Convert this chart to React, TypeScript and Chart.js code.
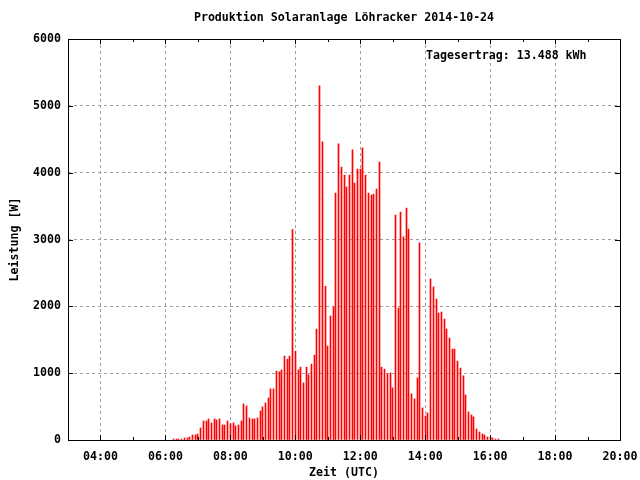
import { useEffect, useRef } from "react";
import { Chart, registerables } from "chart.js";

Chart.register(...registerables);

const TITLE = "Produktion Solaranlage Löhracker 2014-10-24";
const ANNOTATION = "Tagesertrag: 13.488 kWh";
const X_TITLE = "Zeit (UTC)";
const Y_TITLE = "Leistung [W]";

const X_MIN = "03:00";
const X_MAX = "20:00";
const X_TICK_LABELS = ["04:00", "06:00", "08:00", "10:00", "12:00", "14:00", "16:00", "18:00", "20:00"];
const X_MINOR_TICKS = ["05:00", "07:00", "09:00", "11:00", "13:00", "15:00", "17:00", "19:00"];
const Y_TICKS = [0, 1000, 2000, 3000, 4000, 5000, 6000];

const times = [
  "06:15", "06:20", "06:25", "06:30", "06:35", "06:40", "06:45", "06:50", "06:55", "07:00",
  "07:05", "07:10", "07:15", "07:20", "07:25", "07:30", "07:35", "07:40", "07:45", "07:50", "07:55", "08:00",
  "08:05", "08:10", "08:15", "08:20", "08:25", "08:30", "08:35", "08:40", "08:45", "08:50", "08:55", "09:00",
  "09:05", "09:10", "09:15", "09:20", "09:25", "09:30", "09:35", "09:40", "09:45", "09:50", "09:55", "10:00",
  "10:05", "10:10", "10:15", "10:20", "10:25", "10:30", "10:35", "10:40", "10:45", "10:50", "10:55", "11:00",
  "11:05", "11:10", "11:15", "11:20", "11:25", "11:30", "11:35", "11:40", "11:45", "11:50", "11:55", "12:00",
  "12:05", "12:10", "12:15", "12:20", "12:25", "12:30", "12:35", "12:40", "12:45", "12:50", "12:55", "13:00",
  "13:05", "13:10", "13:15", "13:20", "13:25", "13:30", "13:35", "13:40", "13:45", "13:50", "13:55", "14:00",
  "14:05", "14:10", "14:15", "14:20", "14:25", "14:30", "14:35", "14:40", "14:45", "14:50", "14:55", "15:00",
  "15:05", "15:10", "15:15", "15:20", "15:25", "15:30", "15:35", "15:40", "15:45", "15:50", "15:55", "16:00",
  "16:05", "16:10", "16:15",
];

const power = [
  15, 15, 15, 15, 30, 30, 45, 75, 75, 90,
  180, 285, 285, 315, 255, 315, 300, 315, 225, 225, 285, 245,
  255, 210, 225, 285, 540, 510, 330, 315, 315, 330, 435, 495,
  555, 630, 765, 765, 1030, 1020, 1050, 1255, 1210, 1255, 3150, 1330,
  1050, 1090, 855, 1090, 975, 1135, 1270, 1660, 5300, 4460, 2300, 1405,
  1855, 1990, 3695, 4430, 4085, 3965, 3785, 3965, 4340, 3845, 4055, 4055,
  4370, 3965, 3695, 3665, 3680, 3755, 4160, 1090, 1060, 990, 1005, 780,
  3365, 1975, 3410, 3040, 3470, 3155, 690, 615, 930, 2950, 480, 360,
  405, 2410, 2290, 2110, 1900, 1915, 1810, 1660, 1525, 1360, 1360, 1180,
  1075, 960, 675, 420, 375, 345, 165, 120, 90, 75, 45, 40,
  30, 15, 15,
];

const FONT_FAMILY = "'DejaVu Sans Mono', 'Liberation Mono', monospace";
const FONT_SIZE = 11.6;

function toMin(s: string): number {
  const [h, m] = s.split(":").map(Number);
  return h * 60 + m;
}

function fmt(v: number): string {
  const h = Math.floor(v / 60);
  const m = v % 60;
  return `${String(h).padStart(2, "0")}:${String(m).padStart(2, "0")}`;
}

export default function App() {
  const ref = useRef<HTMLCanvasElement>(null);

  useEffect(() => {
    if (!ref.current) return;
    const data = times.map((t, i) => ({ x: toMin(t), y: power[i] }));
    const xMajor = X_TICK_LABELS.map(toMin);
    const xMinor = X_MINOR_TICKS.map(toMin);
    const xMin = toMin(X_MIN);
    const xMax = toMin(X_MAX);
    const fontStr = `bold ${FONT_SIZE}px ${FONT_FAMILY}`;

    const framePlugin = {
      id: "frame",
      beforeDraw(chart: any) {
        const { ctx } = chart;
        ctx.save();
        ctx.fillStyle = "#ffffff";
        ctx.fillRect(0, 0, chart.width, chart.height);
        ctx.restore();
      },
      afterDatasetsUpdate(chart: any) {
        // snap impulse bars to whole pixel columns for crisp 1px lines
        chart.getSortedVisibleDatasetMetas().forEach((meta: any) => {
          meta.data.forEach((el: any) => {
            el.x = Math.floor(el.x) + 0.5;
          });
        });
      },
      afterDatasetsDraw(chart: any) {
        const { ctx, chartArea: a, scales } = chart;
        ctx.save();
        ctx.strokeStyle = "#000000";
        ctx.lineWidth = 1;
        ctx.beginPath();
        const drawV = (v: number, len: number) => {
          const px = Math.round(scales.x.getPixelForValue(v)) + 0.5;
          ctx.moveTo(px, a.bottom);
          ctx.lineTo(px, a.bottom - len);
          ctx.moveTo(px, a.top);
          ctx.lineTo(px, a.top + len);
        };
        xMajor.forEach((v) => drawV(v, 5));
        xMinor.forEach((v) => drawV(v, 3));
        Y_TICKS.forEach((v) => {
          const py = Math.round(scales.y.getPixelForValue(v)) + 0.5;
          ctx.moveTo(a.left, py);
          ctx.lineTo(a.left + 5, py);
          ctx.moveTo(a.right, py);
          ctx.lineTo(a.right - 5, py);
        });
        ctx.stroke();
        ctx.strokeRect(
          Math.round(a.left) + 0.5,
          Math.round(a.top) + 0.5,
          Math.round(a.right) - Math.round(a.left),
          Math.round(a.bottom) - Math.round(a.top)
        );
        ctx.fillStyle = "#000000";
        ctx.font = fontStr;
        ctx.textBaseline = "middle";
        ctx.textAlign = "center";
        ctx.fillText(TITLE, (a.left + a.right) / 2, 18);
        ctx.textAlign = "left";
        ctx.fillText(ANNOTATION, a.left + 358, a.top + 17);
        ctx.restore();
      },
    };

    const gridColor = (edgeVals: number[]) => (c: any) =>
      edgeVals.includes(c.tick?.value) ? "rgba(0,0,0,0)" : "#a0a0a0";

    const chart = new Chart(ref.current, {
      type: "bar",
      data: {
        datasets: [
          {
            data,
            backgroundColor: "#ff0000",
            borderWidth: 0,
            barThickness: 1,
          },
        ],
      },
      options: {
        responsive: false,
        animation: false,
        events: [],
        layout: { padding: { top: 39, right: 20, bottom: 0, left: 0 } },
        plugins: {
          legend: { display: false },
          tooltip: { enabled: false },
          title: { display: false },
        },
        scales: {
          x: {
            type: "linear",
            min: xMin,
            max: xMax,
            offset: false,
            afterBuildTicks: (s: any) => {
              s.ticks = xMajor.map((v) => ({ value: v }));
            },
            afterFit: (s: any) => {
              s.height = 40;
              s.paddingLeft = 0;
              s.paddingRight = 0;
            },
            grid: {
              offset: false,
              drawTicks: false,
              color: gridColor([xMin, xMax]),
              lineWidth: 1,
            },
            border: { display: false, dash: [3, 3] },
            ticks: {
              autoSkip: false,
              maxRotation: 0,
              padding: 10,
              color: "#000",
              font: { family: FONT_FAMILY, size: FONT_SIZE, weight: "bold" },
              callback: (v: any) => fmt(Number(v)),
            },
            title: {
              display: true,
              text: X_TITLE,
              color: "#000",
              font: { family: FONT_FAMILY, size: FONT_SIZE, weight: "bold" },
              padding: { top: 0, bottom: 0 },
            },
          },
          y: {
            min: 0,
            max: 6000,
            afterBuildTicks: (s: any) => {
              s.ticks = Y_TICKS.map((v) => ({ value: v }));
            },
            afterFit: (s: any) => {
              s.width = 68;
              s.paddingTop = 0;
              s.paddingBottom = 0;
            },
            grid: {
              drawTicks: false,
              color: gridColor([0, 6000]),
              lineWidth: 1,
            },
            border: { display: false, dash: [3, 3] },
            ticks: {
              padding: 7,
              color: "#000",
              font: { family: FONT_FAMILY, size: FONT_SIZE, weight: "bold" },
              callback: (v: any) => String(v),
            },
            title: {
              display: true,
              text: Y_TITLE,
              color: "#000",
              font: { family: FONT_FAMILY, size: FONT_SIZE, weight: "bold" },
              padding: { top: 8, bottom: 0 },
            },
          },
        },
      },
      plugins: [framePlugin],
    } as any);

    return () => chart.destroy();
  }, []);

  return (
    <div style={{ position: "absolute", left: 0, top: 0, width: 640, height: 480 }}>
      <canvas ref={ref} width={640} height={480} />
    </div>
  );
}
